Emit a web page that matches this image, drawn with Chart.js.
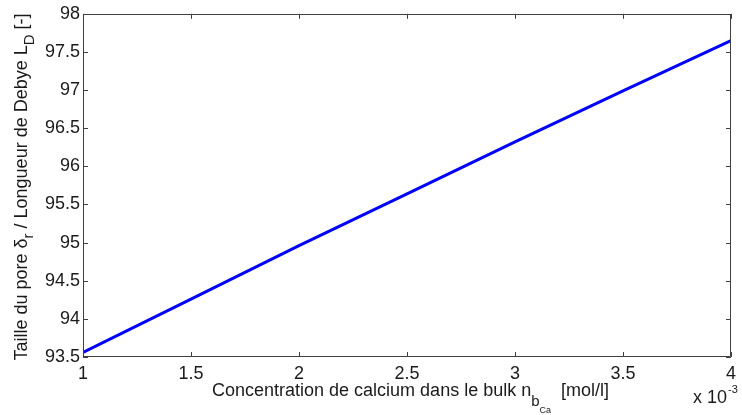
<!DOCTYPE html>
<html>
<head>
<meta charset="utf-8">
<script src="https://cdn.jsdelivr.net/npm/chart.js@4"></script>
<style>
  html, body { margin: 0; padding: 0; background: #ffffff; }
  #wrap { width: 742px; height: 415px; position: relative; }
</style>
</head>
<body>
<div id="wrap"><canvas id="c" width="742" height="415"></canvas></div>
<script>
// ---- data (x in units of 10^-3 mol/l) ----
const xValues = [1, 1.5, 2, 2.5, 3, 3.5, 4];
const yValues = [93.56, 94.26, 94.96, 95.64, 96.32, 96.99, 97.65];
const xTickValues = [1, 1.5, 2, 2.5, 3, 3.5, 4];
const xTickLabels = ['1', '1.5', '2', '2.5', '3', '3.5', '4'];
const yTickValues = [93.5, 94, 94.5, 95, 95.5, 96, 96.5, 97, 97.5, 98];
const yTickLabels = ['93.5', '94', '94.5', '95', '95.5', '96', '96.5', '97', '97.5', '98'];

const FONT = '"Liberation Sans", Arial, Helvetica, sans-serif';
const TXT = '#1a1a1a';
const AXC = '#404040';

function drawRich(ctx, parts, startX, baseY, centered) {
  let total = 0;
  parts.forEach(p => { ctx.font = p.s + 'px ' + FONT; p.w = ctx.measureText(p.t).width; total += p.w; });
  let x = centered ? startX - total / 2 : startX;
  ctx.textBaseline = 'alphabetic';
  ctx.textAlign = 'left';
  parts.forEach(p => {
    ctx.font = p.s + 'px ' + FONT;
    const px = (p.at !== undefined) ? p.at : x;
    ctx.fillText(p.t, px, baseY + (p.dy || 0));
    x = px + p.w;
  });
}

const framePlugin = {
  id: 'frame',
  afterDraw(chart) {
    const ctx = chart.ctx;
    const a = chart.chartArea;
    const xs = chart.scales.x, ys = chart.scales.y;
    ctx.save();
    ctx.strokeStyle = AXC;
    ctx.lineWidth = 1;
    ctx.beginPath();
    ctx.rect(Math.round(a.left) + 0.5, Math.round(a.top) + 0.5,
             Math.round(a.right - a.left) - 1, Math.round(a.bottom - a.top) - 1);
    ctx.stroke();
    const TL = 5;
    ctx.beginPath();
    xs.ticks.forEach(t => {
      const px = Math.round(xs.getPixelForValue(t.value)) + 0.5;
      ctx.moveTo(px, a.bottom); ctx.lineTo(px, a.bottom - TL);
      ctx.moveTo(px, a.top); ctx.lineTo(px, a.top + TL);
    });
    ys.ticks.forEach(t => {
      const py = Math.round(ys.getPixelForValue(t.value)) + 0.5;
      ctx.moveTo(a.left, py); ctx.lineTo(a.left + TL, py);
      ctx.moveTo(a.right, py); ctx.lineTo(a.right - TL, py);
    });
    ctx.stroke();

    ctx.fillStyle = TXT;
    // x axis title
    drawRich(ctx, [
      { t: 'Concentration de calcium dans le bulk n', s: 18 },
      { t: 'b', s: 15, dy: 10 },
      { t: 'Ca', s: 9, dy: 17 },
      { t: '[mol/l]', s: 18, at: 561 }
    ], 212, 396, false);
    // y axis title (rotated)
    ctx.save();
    ctx.translate(27, 187);
    ctx.rotate(-Math.PI / 2);
    drawRich(ctx, [
      { t: 'Taille du pore δ', s: 18 },
      { t: 'r', s: 15, dy: 6 },
      { t: ' / Longueur de Debye L', s: 18 },
      { t: 'D', s: 15, dy: 7 },
      { t: ' [-]', s: 18 }
    ], 0, 0, true);
    ctx.restore();
    // exponent
    ctx.textAlign = 'left';
    ctx.textBaseline = 'alphabetic';
    ctx.font = '18px ' + FONT;
    ctx.fillText('x 10', 693, 403);
    ctx.font = '11px ' + FONT;
    ctx.fillText('-3', 728, 393);
    ctx.restore();
  }
};

new Chart(document.getElementById('c'), {
  type: 'line',
  data: {
    datasets: [{
      data: xValues.map((x, i) => ({ x: x, y: yValues[i] })),
      borderColor: '#0000ff',
      borderWidth: 3,
      pointRadius: 0,
      tension: 0,
      fill: false
    }]
  },
  options: {
    responsive: false,
    animation: false,
    devicePixelRatio: 1,
    layout: { padding: { top: 13, right: 4, left: 0, bottom: 0 } },
    plugins: { legend: { display: false }, tooltip: { enabled: false } },
    scales: {
      x: {
        type: 'linear',
        min: 1, max: 4,
        afterFit: s => { s.height = 58; },
        afterBuildTicks: s => { s.ticks = xTickValues.map(v => ({ value: v })); },
        grid: { display: false, drawTicks: false },
        border: { display: false },
        ticks: {
          padding: 6,
          color: TXT,
          font: { family: FONT, size: 18 },
          maxRotation: 0,
          callback: (v, i) => xTickLabels[i]
        }
      },
      y: {
        type: 'linear',
        min: 93.5, max: 98,
        afterFit: s => { s.width = 83; },
        afterBuildTicks: s => { s.ticks = yTickValues.map(v => ({ value: v })); },
        grid: { display: false, drawTicks: false },
        border: { display: false },
        ticks: {
          padding: 3,
          color: TXT,
          font: { family: FONT, size: 18 },
          callback: (v, i) => yTickLabels[i]
        }
      }
    }
  },
  plugins: [framePlugin]
});
</script>
</body>
</html>
